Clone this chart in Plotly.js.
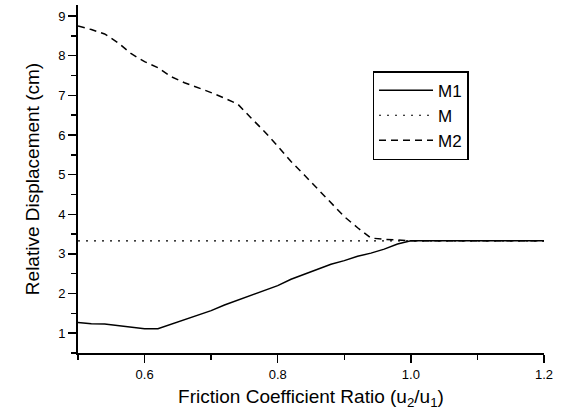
<!DOCTYPE html>
<html>
<head>
<meta charset="utf-8">
<script src="https://cdn.plot.ly/plotly-3.0.1.min.js"></script>
<style>html,body{margin:0;padding:0;background:#fff;}#chart{width:561px;height:413px;}</style>
</head>
<body>
<div id="chart"></div>
<script>
const ratio = [0.50,0.52,0.54,0.56,0.58,0.60,0.62,0.64,0.66,0.68,0.70,0.72,0.74,0.76,0.78,0.80,0.82,0.84,0.86,0.88,0.90,0.92,0.94,0.96,0.98,1.00,1.02,1.04,1.06,1.08,1.10,1.12,1.14,1.16,1.18,1.20];
const m1 = [1.27,1.24,1.23,1.19,1.15,1.11,1.11,1.22,1.33,1.45,1.57,1.71,1.83,1.95,2.09,2.20,2.36,2.49,2.62,2.74,2.83,2.94,3.02,3.12,3.25,3.33,3.33,3.33,3.33,3.33,3.33,3.33,3.33,3.33,3.33,3.33];
const m = [3.33,3.33,3.33,3.33,3.33,3.33,3.33,3.33,3.33,3.33,3.33,3.33,3.33,3.33,3.33,3.33,3.33,3.33,3.33,3.33,3.33,3.33,3.33,3.33,3.33,3.33,3.33,3.33,3.33,3.33,3.33,3.33,3.33,3.33,3.33,3.33];
const m2 = [8.75,8.66,8.55,8.33,8.05,7.85,7.70,7.47,7.32,7.20,7.07,6.93,6.78,6.43,6.09,5.72,5.33,4.99,4.64,4.27,3.94,3.66,3.40,3.37,3.35,3.33,3.33,3.33,3.33,3.33,3.33,3.33,3.33,3.33,3.33,3.33];
const seriesNames = ["M1","M","M2"];

const traces = [
  {x: ratio, y: m1, name: seriesNames[0], mode: "lines", line: {color: "#000", width: 1.5, dash: "solid"}},
  {x: ratio, y: m, name: seriesNames[1], mode: "lines", line: {color: "#000", width: 1.2, dash: "2px,6px"}},
  {x: ratio, y: m2, name: seriesNames[2], mode: "lines", line: {color: "#000", width: 1.5, dash: "7px,5px"}}
];

const font = "Arial, 'Liberation Sans', sans-serif";
const layout = {
  width: 561, height: 413,
  margin: {l: 78, r: 17, t: 5, b: 60},
  paper_bgcolor: "#fff", plot_bgcolor: "#fff",
  font: {family: font, color: "#000", size: 13},
  showlegend: true,
  legend: {
    x: 0.632, y: 0.81, xanchor: "left", yanchor: "top",
    bordercolor: "#000", borderwidth: 1.5, bgcolor: "#fff",
    font: {family: font, size: 17, color: "#000"},
    itemwidth: 54
  },
  xaxis: {
    range: [0.5, 1.2], dtick: 0.2, tick0: 0, tickformat: ".1f",
    showgrid: false, zeroline: false,
    showline: true, linecolor: "#000", linewidth: 2,
    ticks: "outside", ticklen: 8, tickwidth: 1.5, tickcolor: "#000",
    tickfont: {size: 13},
    minor: {dtick: 0.1, tick0: 0, ticks: "outside", ticklen: 5, tickwidth: 1.5, tickcolor: "#000", showgrid: false},
    title: {text: "Friction Coefficient Ratio (u<sub>2</sub>/u<sub>1</sub>)", font: {size: 19}, standoff: 9}
  },
  yaxis: {
    range: [0.5, 9.28], dtick: 1, tick0: 0,
    showgrid: false, zeroline: false,
    showline: true, linecolor: "#000", linewidth: 2,
    ticks: "outside", ticklen: 8, tickwidth: 1.5, tickcolor: "#000",
    tickfont: {size: 13},
    minor: {dtick: 0.5, tick0: 0, ticks: "outside", ticklen: 5, tickwidth: 1.5, tickcolor: "#000", showgrid: false},
    title: {text: "Relative Displacement (cm)", font: {size: 19}, standoff: 14}
  }
};

Plotly.newPlot("chart", traces, layout, {displayModeBar: false, staticPlot: true});
</script>
</body>
</html>
